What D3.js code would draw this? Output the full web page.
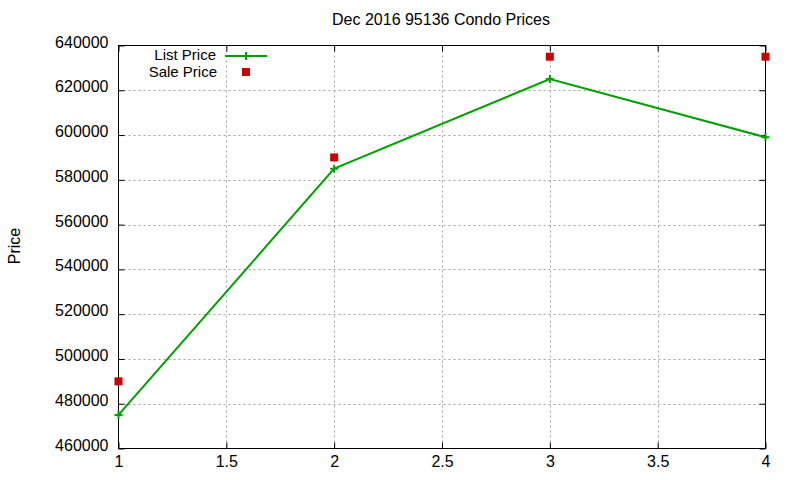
<!DOCTYPE html>
<html>
<head>
<meta charset="utf-8">
<script src="https://cdn.jsdelivr.net/npm/d3@7"></script>
<style>
  body { margin: 0; background: #fff; }
  svg { font-family: "Liberation Sans", Arial, sans-serif; }
</style>
</head>
<body>
<svg id="chart" width="800" height="480"></svg>
<script>
const MONTHS = [1, 2, 3, 4]
const LIST_PRICE = [475000, 585000, 625000, 599000]
const SALE_PRICE = [490000, 590000, 635000, 635000]
const X_TICKS = [1, 1.5, 2, 2.5, 3, 3.5, 4]
const Y_TICKS = [460000, 480000, 500000, 520000, 540000, 560000, 580000, 600000, 620000, 640000]

const GREEN = "#00a000"
const RED = "#cc0000"

const svg = d3.select("#chart")
const PLOT_LEFT = 118.5, PLOT_RIGHT = 765.5, PLOT_TOP = 45.5, PLOT_BOTTOM = 448.5

const X_SCALE = d3.scaleLinear().domain([1, 4]).range([PLOT_LEFT, PLOT_RIGHT])
const Y_SCALE = d3.scaleLinear().domain([460000, 640000]).range([PLOT_BOTTOM, PLOT_TOP])

// grid
svg.append("g").selectAll("line").data(Y_TICKS.slice(1, -1)).join("line")
    .attr("x1", PLOT_LEFT).attr("x2", PLOT_RIGHT)
    .attr("y1", d => Math.round(Y_SCALE(d)) + 0.5).attr("y2", d => Math.round(Y_SCALE(d)) + 0.5)
    .attr("stroke", "#a0a0a0").attr("stroke-dasharray", "2,3")
svg.append("g").selectAll("line").data(X_TICKS.slice(1, -1)).join("line")
    .attr("y1", PLOT_TOP).attr("y2", PLOT_BOTTOM)
    .attr("x1", d => Math.round(X_SCALE(d)) + 0.5).attr("x2", d => Math.round(X_SCALE(d)) + 0.5)
    .attr("stroke", "#a0a0a0").attr("stroke-dasharray", "2,3")

// axes (ticks inward, mirrored)
const tickFont = g => g.selectAll("text").attr("font-size", "16px").attr("fill", "#000")
svg.append("g").attr("transform", `translate(0,${PLOT_BOTTOM})`)
    .call(d3.axisBottom(X_SCALE).tickValues(X_TICKS).tickSize(-6).tickPadding(7).tickFormat(d3.format("")))
    .call(g => g.select(".domain").remove()).call(tickFont)
svg.append("g").attr("transform", `translate(0,${PLOT_TOP})`)
    .call(d3.axisTop(X_SCALE).tickValues(X_TICKS).tickSize(-6).tickFormat(""))
    .call(g => g.select(".domain").remove())
svg.append("g").attr("transform", `translate(${PLOT_LEFT},0)`)
    .call(d3.axisLeft(Y_SCALE).tickValues(Y_TICKS).tickSize(-6).tickPadding(10).tickFormat(d3.format("d")))
    .call(g => g.select(".domain").remove()).call(tickFont)
    .call(g => g.selectAll("text").attr("dy", "0.1em"))
svg.append("g").attr("transform", `translate(${PLOT_RIGHT},0)`)
    .call(d3.axisRight(Y_SCALE).tickValues(Y_TICKS).tickSize(-6).tickFormat(""))
    .call(g => g.select(".domain").remove())

svg.append("rect")
    .attr("x", PLOT_LEFT).attr("y", PLOT_TOP).attr("width", PLOT_RIGHT - PLOT_LEFT).attr("height", PLOT_BOTTOM - PLOT_TOP)
    .attr("fill", "none").attr("stroke", "#000").attr("stroke-width", 1)

// list price line
const line = d3.line().x((d, i) => X_SCALE(MONTHS[i])).y(d => Y_SCALE(d))
svg.append("path").datum(LIST_PRICE)
    .attr("d", line).attr("fill", "none").attr("stroke", GREEN).attr("stroke-width", 2)

const cross = (g, x, y) => {
    g.append("path")
        .attr("d", `M${x - 4},${y}H${x + 4}M${x},${y - 4}V${y + 4}`)
        .attr("stroke", GREEN).attr("stroke-width", 2)
}
LIST_PRICE.forEach((v, i) => cross(svg, X_SCALE(MONTHS[i]), Y_SCALE(v)))

// sale price points
svg.append("g").selectAll("rect").data(SALE_PRICE).join("rect")
    .attr("x", (d, i) => X_SCALE(MONTHS[i]) - 4)
    .attr("y", d => Y_SCALE(d) - 4)
    .attr("width", 8).attr("height", 8)
    .attr("fill", RED)

// legend
svg.append("text").attr("x", 216).attr("y", 60).attr("text-anchor", "end")
    .attr("font-size", "15px").text("List Price")
svg.append("line").attr("x1", 225).attr("x2", 267).attr("y1", 56).attr("y2", 56)
    .attr("stroke", GREEN).attr("stroke-width", 2)
cross(svg, 246, 56)
svg.append("text").attr("x", 217).attr("y", 77).attr("text-anchor", "end")
    .attr("font-size", "15px").text("Sale Price")
svg.append("rect").attr("x", 242).attr("y", 68).attr("width", 8).attr("height", 8).attr("fill", RED)

// title and axis label
svg.append("text").attr("x", 441).attr("y", 25).attr("text-anchor", "middle")
    .attr("font-size", "16px").text("Dec 2016 95136 Condo Prices")
svg.append("text").attr("transform", "translate(20,246) rotate(-90)").attr("text-anchor", "middle")
    .attr("font-size", "16px").text("Price")
</script>
</body>
</html>
